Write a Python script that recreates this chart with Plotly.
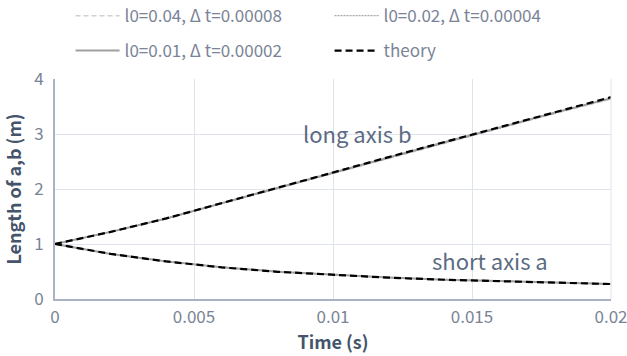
import plotly.graph_objects as go

time_s = [0, 0.002, 0.004, 0.006, 0.008, 0.010, 0.012, 0.014, 0.016, 0.018, 0.020]

b_theory = [1.0, 1.22, 1.465, 1.74, 2.02, 2.30, 2.58, 2.855, 3.13, 3.40, 3.67]
a_theory = [1.0, 0.82, 0.683, 0.575, 0.495, 0.435, 0.388, 0.350, 0.320, 0.294, 0.272]

b_l004 = [1.0, 1.22, 1.462, 1.735, 2.012, 2.29, 2.565, 2.84, 3.11, 3.375, 3.635]
a_l004 = [1.0, 0.82, 0.685, 0.578, 0.498, 0.438, 0.391, 0.353, 0.323, 0.297, 0.276]
b_l002 = [1.0, 1.22, 1.463, 1.737, 2.015, 2.293, 2.57, 2.845, 3.117, 3.383, 3.645]
a_l002 = [1.0, 0.82, 0.684, 0.577, 0.497, 0.437, 0.390, 0.352, 0.322, 0.296, 0.275]
b_l001 = [1.0, 1.22, 1.464, 1.738, 2.017, 2.296, 2.574, 2.85, 3.122, 3.39, 3.65]
a_l001 = [1.0, 0.82, 0.684, 0.576, 0.496, 0.436, 0.389, 0.351, 0.321, 0.295, 0.274]

x_ticks = [0, 0.005, 0.01, 0.015, 0.02]
x_ticklabels = ["0", "0.005", "0.01", "0.015", "0.02"]
y_ticks = [0, 1, 2, 3, 4]

names = ["l0=0.04, Δ t=0.00008", "l0=0.02, Δ t=0.00004", "l0=0.01, Δ t=0.00002", "theory"]
legend_of = ["legend", "legend", "legend2", "legend2"]

FONT = "Noto Sans CJK JP"
TXT = "#7a8496"
fig = go.Figure()

series = [
    (b_l004, a_l004, dict(color="#d0d0d0", width=1.5, dash="5px,3px")),
    (b_l002, a_l002, dict(color="#a8a8a8", width=1.2, dash="2px,1px")),
    (b_l001, a_l001, dict(color="#a0a0a0", width=2)),
    (b_theory, a_theory, dict(color="#000000", width=2.2, dash="7px,4px")),
]
for i, (b, a, ln) in enumerate(series):
    fig.add_trace(go.Scatter(x=time_s, y=b, mode="lines", name=names[i], line=ln,
                             legend=legend_of[i]))
    fig.add_trace(go.Scatter(x=time_s, y=a, mode="lines", name=names[i], line=ln,
                             legend=legend_of[i], showlegend=False))

fig.add_annotation(x=0.01088, y=3.02, text="long axis b", showarrow=False,
                   font=dict(family=FONT, size=22, color="#5b6b82"))
fig.add_annotation(x=0.01563, y=0.71, text="short axis a", showarrow=False,
                   font=dict(family=FONT, size=22, color="#5b6b82"))

leg_common = dict(orientation="h", xanchor="left", yanchor="middle",
                  entrywidth=200, entrywidthmode="pixels",
                  font=dict(family=FONT, size=17, color=TXT),
                  itemwidth=44, bgcolor="rgba(0,0,0,0)", borderwidth=0)

fig.update_layout(
    width=627, height=356,
    margin=dict(l=55, r=16, t=79, b=57, autoexpand=False),
    paper_bgcolor="white", plot_bgcolor="white",
    font=dict(family=FONT, size=17, color=TXT),
    showlegend=True,
    legend=dict(x=0.028, y=1.286, **leg_common),
    legend2=dict(x=0.028, y=1.127, **leg_common),
    xaxis=dict(range=[0, 0.02], tickvals=x_ticks, ticktext=x_ticklabels,
               showgrid=True, gridcolor="#dfe4ec", gridwidth=1,
               showline=True, linecolor="#a9b3c4", linewidth=2,
               zeroline=False, ticks="", ticklabelstandoff=2,
               ticklabeloverflow="allow",
               tickfont=dict(size=17, color=TXT),
               title=dict(text="<b>Time (s)</b>", font=dict(size=18, color="#44546a"), standoff=9)),
    yaxis=dict(range=[0, 4], tickvals=y_ticks,
               showgrid=True, gridcolor="#dfe4ec", gridwidth=1,
               showline=True, linecolor="#a9b3c4", linewidth=2,
               zeroline=False, ticks="", ticklabelstandoff=6,
               tickfont=dict(size=17, color=TXT),
               title=dict(text="<b>Length of a,b (m)</b>", font=dict(size=18, color="#44546a"), standoff=8)),
)
fig.add_shape(type="line", xref="paper", yref="paper", x0=1, x1=1, y0=0, y1=1,
              line=dict(color="#dfe4ec", width=1))

fig.write_html("out.html")
